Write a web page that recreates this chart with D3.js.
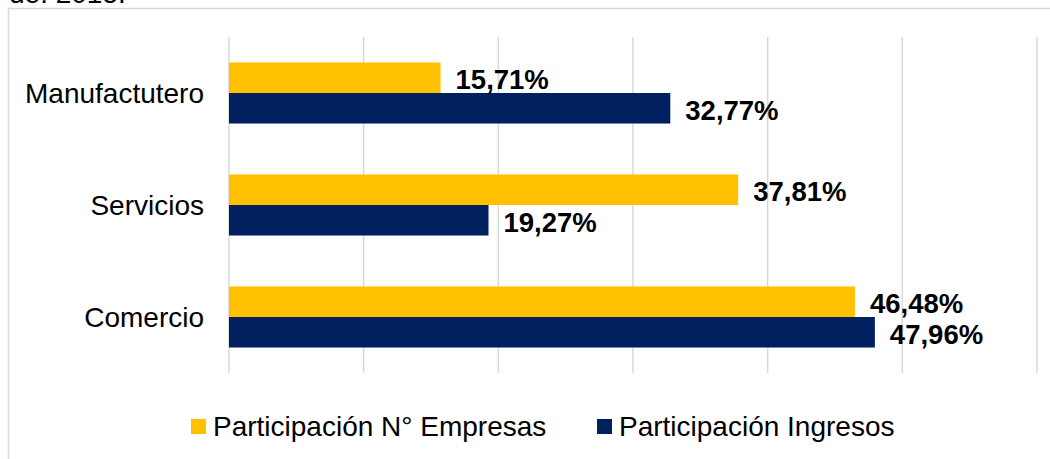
<!DOCTYPE html>
<html>
<head>
<meta charset="utf-8">
<script src="https://cdn.jsdelivr.net/npm/d3@7"></script>
<style>
  html, body { margin: 0; padding: 0; background: #fff; overflow: hidden; }
  svg { display: block; font-family: "Liberation Sans", Arial, sans-serif; }
</style>
</head>
<body>
<svg id="chart" width="1050" height="459"></svg>
<script>
const categories = ["Manufactutero", "Servicios", "Comercio"];
const seriesNames = ["Participación N° Empresas", "Participación Ingresos"];
const empresas = [15.71, 37.81, 46.48];
const ingresos = [32.77, 19.27, 47.96];
const xTicks = [0, 10, 20, 30, 40, 50, 60];
const colors = ["#FFC000", "#002060"];

const svg = d3.select("#chart");

// outer chart frame (extends beyond the visible area)
svg.append("rect")
  .attr("x", 8.5).attr("y", 8.5)
  .attr("width", 2000).attr("height", 2000)
  .attr("fill", "none").attr("stroke", "#D9D9D9").attr("stroke-width", 1.5);

// partially cut-off text above the chart
svg.append("text")
  .attr("x", 9).attr("y", 3)
  .attr("font-size", 28).attr("fill", "#000")
  .text("de: 2015.");

const x = d3.scaleLinear().domain([0, 60]).range([229, 1037]);
const y = d3.scaleBand().domain(categories).range([37, 373])
  .paddingInner(0.455).paddingOuter(0.2275);
const ySub = d3.scaleBand().domain([0, 1]).range([0, y.bandwidth()]);

// gridlines
svg.append("g").selectAll("line").data(xTicks).join("line")
  .attr("x1", d => x(d)).attr("x2", d => x(d))
  .attr("y1", 37).attr("y2", 373)
  .attr("stroke", "#D9D9D9").attr("stroke-width", 1.5);

// category labels
svg.append("g").selectAll("text").data(categories).join("text")
  .attr("x", 204)
  .attr("y", d => y(d) + y.bandwidth() / 2 + 10)
  .attr("text-anchor", "end")
  .attr("font-size", 28).attr("fill", "#000")
  .text(d => d);

const rows = [];
categories.forEach((c, i) => {
  rows.push({ cat: c, s: 0, v: empresas[i] });
  rows.push({ cat: c, s: 1, v: ingresos[i] });
});

svg.append("g").selectAll("rect").data(rows).join("rect")
  .attr("x", x(0))
  .attr("y", d => y(d.cat) + ySub(d.s))
  .attr("width", d => x(d.v) - x(0))
  .attr("height", ySub.bandwidth())
  .attr("fill", d => colors[d.s]);

svg.append("g").selectAll("text").data(rows).join("text")
  .attr("x", d => x(d.v) + 15)
  .attr("y", d => y(d.cat) + ySub(d.s) + ySub.bandwidth() / 2 + 11.5)
  .attr("font-size", 27.5).attr("font-weight", "bold").attr("fill", "#000")
  .text(d => d.v.toFixed(2).replace(".", ",") + "%");

// legend
const legendX = [191, 597];
const lg = svg.append("g").selectAll("g").data(seriesNames).join("g")
  .attr("transform", (d, i) => `translate(${legendX[i]},419)`);
lg.append("rect").attr("width", 15).attr("height", 15)
  .attr("fill", (d, i) => colors[i]);
lg.append("text").attr("x", 22).attr("y", 17)
  .attr("font-size", 28).attr("fill", "#000")
  .text(d => d);
</script>
</body>
</html>
